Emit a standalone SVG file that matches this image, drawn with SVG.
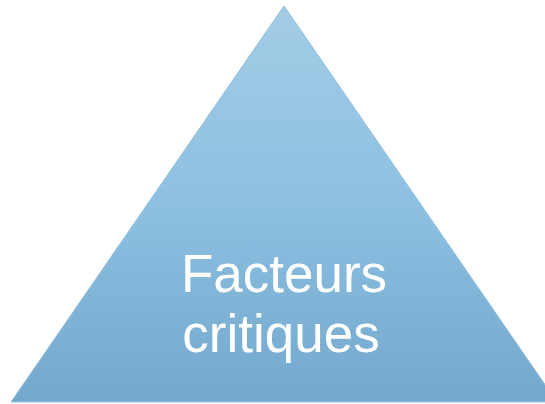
<svg xmlns="http://www.w3.org/2000/svg" width="545" height="404" viewBox="0 0 545 404">
<defs>
<linearGradient id="g" x1="0" y1="0" x2="0" y2="1">
<stop offset="0" stop-color="#a3cce6"/>
<stop offset="0.5" stop-color="#8dc0e1"/>
<stop offset="1" stop-color="#73a8cd"/>
</linearGradient>
<style>
.lbl{font-family:"Liberation Sans",Arial,sans-serif;font-size:53px;fill:#ffffff;text-anchor:middle}
</style>
</defs>
<rect width="545" height="404" fill="#ffffff"/>
<g id="triangle">
<polygon points="284,6 557,402 11,402" fill="url(#g)" stroke="#8fbfdd" stroke-width="1"/>
<text class="lbl" x="284" y="292">Facteurs</text>
<text class="lbl" x="281" y="352">critiques</text>
</g>
</svg>
